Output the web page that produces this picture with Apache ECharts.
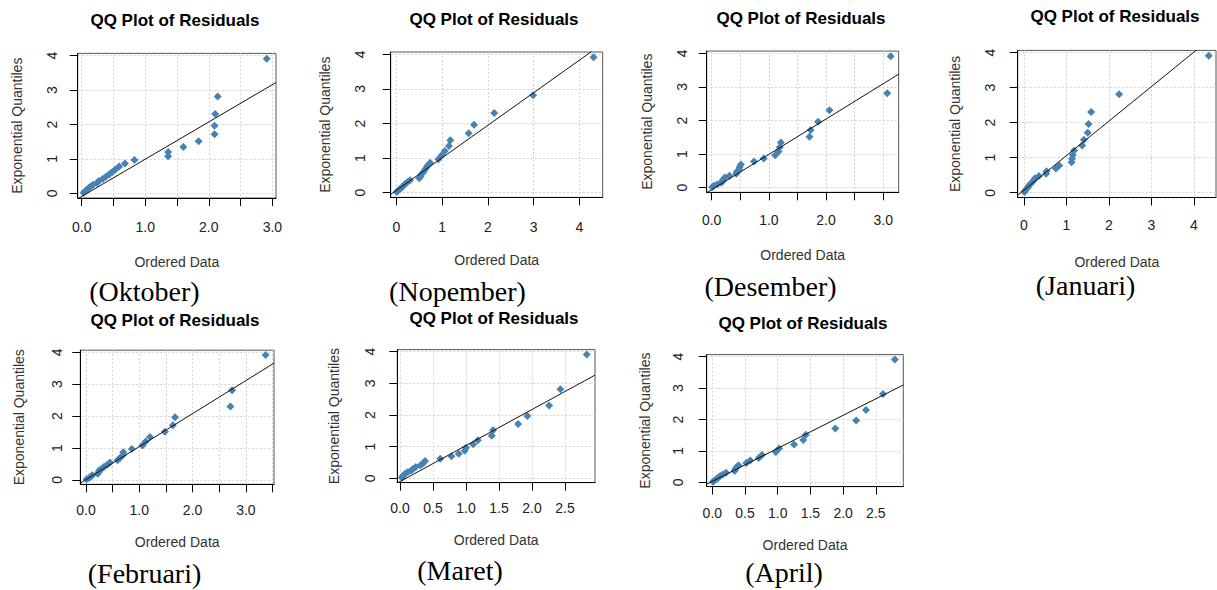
<!DOCTYPE html>
<html><head><meta charset="utf-8">
<script src="https://cdn.jsdelivr.net/npm/echarts@6/dist/echarts.min.js"></script>
<style>html,body{margin:0;padding:0;background:#fff}#c{width:1217px;height:590px}</style>
</head><body><div id="c"></div>
<script>
// ---------- data ----------
const chartTitle = 'QQ Plot of Residuals';
const xName = 'Ordered Data';
const yName = 'Exponential Quantiles';
const months = ['(Oktober)', '(Nopember)', '(Desember)', '(Januari)', '(Februari)', '(Maret)', '(April)'];
// Exponential quantiles (y) shared by every panel
const quantiles = [0.020, 0.062, 0.105, 0.151, 0.198, 0.248, 0.301, 0.357, 0.416, 0.478, 0.545, 0.616, 0.693, 0.777, 0.868, 0.968, 1.079, 1.204, 1.347, 1.514, 1.715, 1.966, 2.303, 2.813, 3.912];
// Ordered data (x) per month
const xOktober  = [0.03, 0.05, 0.08, 0.11, 0.14, 0.18, 0.24, 0.27, 0.33, 0.38, 0.43, 0.48, 0.53, 0.59, 0.68, 0.83, 1.36, 1.36, 1.60, 1.84, 2.09, 2.09, 2.10, 2.14, 2.91];
const xNopember = [0.01, 0.04, 0.08, 0.12, 0.16, 0.19, 0.24, 0.30, 0.50, 0.53, 0.56, 0.60, 0.64, 0.68, 0.74, 0.92, 0.99, 1.06, 1.15, 1.18, 1.58, 1.70, 2.14, 2.99, 4.31];
const xDesember = [0.01, 0.04, 0.10, 0.17, 0.19, 0.20, 0.23, 0.31, 0.43, 0.44, 0.48, 0.49, 0.51, 0.74, 0.91, 1.11, 1.17, 1.19, 1.21, 1.71, 1.73, 1.86, 2.06, 3.07, 3.13];
const xJanuari  = [0.01, 0.03, 0.06, 0.09, 0.11, 0.15, 0.19, 0.23, 0.26, 0.35, 0.52, 0.53, 0.75, 0.83, 1.12, 1.13, 1.15, 1.18, 1.37, 1.41, 1.50, 1.52, 1.58, 2.24, 4.35];
const xFebruari = [0.01, 0.06, 0.09, 0.12, 0.22, 0.24, 0.25, 0.30, 0.34, 0.40, 0.45, 0.59, 0.64, 0.69, 0.70, 0.86, 1.06, 1.12, 1.20, 1.48, 1.63, 1.67, 2.71, 2.74, 3.37];
const xMaret    = [0.03, 0.04, 0.06, 0.08, 0.12, 0.17, 0.20, 0.24, 0.31, 0.35, 0.38, 0.61, 0.78, 0.89, 0.98, 1.00, 1.11, 1.18, 1.39, 1.41, 1.79, 1.93, 2.26, 2.43, 2.83];
const xApril    = [0.01, 0.03, 0.07, 0.09, 0.12, 0.16, 0.21, 0.34, 0.35, 0.37, 0.40, 0.52, 0.58, 0.71, 0.76, 0.97, 1.02, 1.25, 1.39, 1.43, 1.88, 2.20, 2.35, 2.61, 2.79];
// Reference line end points [x, y] per month
const lineOktober  = [[-0.063, -0.16], [3.057, 3.22]];
const lineNopember = [[-0.122, -0.05], [4.51, 4.31]];
const lineDesember = [[-0.087, -0.15], [3.27, 3.38]];
const lineJanuari  = [[-0.148, -0.07], [4.52, 4.53]];
const lineFebruari = [[-0.107, -0.10], [3.527, 3.66]];
const lineMaret    = [[-0.041, -0.15], [2.955, 3.26]];
const lineApril    = [[-0.086, -0.06], [2.92, 3.10]];
// Tick values and labelled tick values
const xTicksHalf3  = [0, 0.5, 1, 1.5, 2, 2.5, 3];
const xTicksHalf35 = [0, 0.5, 1, 1.5, 2, 2.5, 3, 3.5];
const xTicksHalf25 = [0, 0.5, 1, 1.5, 2, 2.5];
const xTicksInt4   = [0, 1, 2, 3, 4];
const xLabelsInt3  = [0, 1, 2, 3];
const yTicks = [0, 1, 2, 3, 4];

// ---------- panels ----------
const panels = [
  {x: xOktober,  line: lineOktober,  ticks: xTicksHalf3,  labels: xLabelsInt3,  dec: 1},
  {x: xNopember, line: lineNopember, ticks: xTicksInt4,   labels: xTicksInt4,   dec: 0},
  {x: xDesember, line: lineDesember, ticks: xTicksHalf3,  labels: xLabelsInt3,  dec: 1},
  {x: xJanuari,  line: lineJanuari,  ticks: xTicksInt4,   labels: xTicksInt4,   dec: 0},
  {x: xFebruari, line: lineFebruari, ticks: xTicksHalf35, labels: xLabelsInt3,  dec: 1},
  {x: xMaret,    line: lineMaret,    ticks: xTicksHalf25, labels: xTicksHalf25, dec: 1},
  {x: xApril,    line: lineApril,    ticks: xTicksHalf25, labels: xTicksHalf25, dec: 1}
];
// ---------- layout (pixels / axis extents) ----------
const layout = [
  {box: [77.7, 53.4, 198.3, 144.6],  xr: [-0.063, 3.057], xm: 21.7, ym: 18.4, xg: 57,   yg: 53.7, title: [175, 20],     cap: [144.5, 291]},
  {box: [390.7, 52.0, 212, 145.4],   xr: [-0.122, 4.51],  xm: 22.3, ym: 23.7, xg: 55.6, yg: 58.7, title: [494, 19.5],   cap: [457.5, 291]},
  {box: [706.7, 51.1, 192, 141.2],   xr: [-0.087, 3.27],  xm: 20.7, ym: 18,   xg: 55.7, yg: 52.4, title: [801, 18.3],   cap: [770.5, 286.5]},
  {box: [1017.7, 50.4, 198.3, 147.1],xr: [-0.148, 4.52],  xm: 20.5, ym: 20.7, xg: 57.2, yg: 55.7, title: [1115, 16.7],  cap: [1085.5, 285.5]},
  {box: [80.3, 350.2, 193.7, 134.1], xr: [-0.107, 3.527], xm: 18.7, ym: 16.6, xg: 50.4, yg: 54,   title: [175, 320],    cap: [144.5, 573]},
  {box: [397.3, 349.6, 197.7, 133],  xr: [-0.041, 2.955], xm: 18.7, ym: 20.3, xg: 50.4, yg: 56.3, title: [494, 318.3],  cap: [460, 570]},
  {box: [706.7, 354.6, 196.6, 132],  xr: [-0.086, 2.92],  xm: 19.7, ym: 21.4, xg: 51.4, yg: 54.7, title: [803, 323.3],  cap: [784, 572.5]}
];
const yRange = [-0.136, 4.066];
const SANS = '"Liberation Sans", Arial, sans-serif';
const SERIF = '"Liberation Serif", "Times New Roman", serif';
const dotted = {color: '#d2d2d2', width: 1, type: [2, 2]};

const grids = [], xAxes = [], yAxes = [], series = [], graphics = [];
panels.forEach((p, i) => {
  const L = layout[i];
  grids.push({left: L.box[0], top: L.box[1], width: L.box[2], height: L.box[3],
    show: true, borderColor: '#555', borderWidth: 1, backgroundColor: '#fff',
    containLabel: false, outerBoundsMode: 'none'});
  xAxes.push({type: 'value', gridIndex: i, min: L.xr[0], max: L.xr[1],
    axisLine: {show: true, onZero: false, lineStyle: {color: '#000', width: 1}},
    axisTick: {show: true, inside: false, length: 8, customValues: p.ticks, lineStyle: {color: '#000', width: 1}},
    axisLabel: {show: true, customValues: p.labels, margin: L.xm, color: '#222', fontSize: 14, fontFamily: SANS,
      formatter: v => Number(v).toFixed(p.dec), showMinLabel: true, showMaxLabel: true, hideOverlap: false},
    splitLine: {show: true, lineStyle: dotted},
    name: xName, nameLocation: 'middle', nameGap: L.xg, nameMoveOverlap: false,
    nameTextStyle: {color: '#333', fontSize: 14, fontFamily: SANS}});
  yAxes.push({type: 'value', gridIndex: i, min: yRange[0], max: yRange[1],
    axisLine: {show: true, onZero: false, lineStyle: {color: '#000', width: 1}},
    axisTick: {show: true, inside: false, length: 8, customValues: yTicks, lineStyle: {color: '#000', width: 1}},
    axisLabel: {show: true, customValues: yTicks, rotate: 90, margin: L.ym, color: '#222', fontSize: 14, fontFamily: SANS,
      showMinLabel: true, showMaxLabel: true, hideOverlap: false},
    splitLine: {show: true, lineStyle: dotted},
    name: yName, nameLocation: 'middle', nameGap: L.yg, nameRotate: 90, nameMoveOverlap: false,
    nameTextStyle: {color: '#333', fontSize: 14, fontFamily: SANS}});
  series.push({type: 'scatter', xAxisIndex: i, yAxisIndex: i, symbol: 'diamond', symbolSize: 8,
    itemStyle: {color: '#4682B4', opacity: 1}, silent: true, z: 2,
    data: p.x.map((x, k) => [x, quantiles[k]])});
  series.push({type: 'line', xAxisIndex: i, yAxisIndex: i, symbol: 'none', clip: true, silent: true, z: 3,
    lineStyle: {color: '#111', width: 1}, data: p.line});
  graphics.push({type: 'text', x: L.title[0], y: L.title[1], silent: true,
    style: {text: chartTitle, font: 'bold 17px ' + SANS, fill: '#000',
      align: 'center', verticalAlign: 'middle', textAlign: 'center', textVerticalAlign: 'middle'}});
  graphics.push({type: 'text', x: L.cap[0], y: L.cap[1], silent: true,
    style: {text: months[i], font: '28px ' + SERIF, fill: '#000',
      align: 'center', verticalAlign: 'middle', textAlign: 'center', textVerticalAlign: 'middle'}});
});

const chart = echarts.init(document.getElementById('c'), null, {renderer: 'svg', width: 1217, height: 590});
chart.setOption({
  animation: false,
  backgroundColor: '#fff',
  tooltip: {show: false},
  grid: grids, xAxis: xAxes, yAxis: yAxes, series: series, graphic: graphics
});
</script>
</body></html>
